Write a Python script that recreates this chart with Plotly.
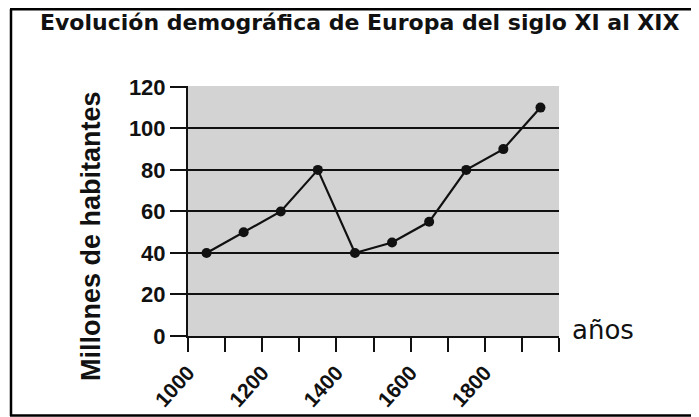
import plotly.graph_objects as go

# ---- data ----
years = [1050, 1150, 1250, 1350, 1450, 1550, 1650, 1750, 1850, 1950]
population = [40, 50, 60, 80, 40, 45, 55, 80, 90, 110]
x_tick_values = [1000, 1200, 1400, 1600, 1800]
x_tick_labels = ["1000", "1200", "1400", "1600", "1800"]
y_tick_values = [0, 20, 40, 60, 80, 100, 120]
y_tick_labels = ["0", "20", "40", "60", "80", "100", "120"]
title_text = "Evolución demográfica de Europa del siglo XI al XIX"
y_title = "Millones de habitantes"
x_title = "años"

W, H = 699, 417
OFF = 8  # page offset of the figure inside the browser window
# plot area in window pixels
WL, WR, WT, WB = 188, 559, 86, 336
L, R, T, B = WL - OFF, WR - OFF, WT - OFF, WB - OFF  # figure pixels
FONT = "Liberation Sans, Arial, sans-serif"
WIDE = "DejaVu Sans, Liberation Sans, sans-serif"


def px(x):  # window pixel -> paper x
    return (x - OFF - L) / (R - L)


def py(y):  # window pixel -> paper y
    return (B - (y - OFF)) / (B - T)


fig = go.Figure()
fig.add_trace(go.Scatter(
    x=years, y=population, mode="lines+markers",
    line=dict(color="#111111", width=2.2),
    marker=dict(color="#111111", size=10),
    showlegend=False, hoverinfo="skip",
))

fig.update_layout(
    width=W, height=H,
    margin=dict(l=L, r=W - R, t=T, b=H - B, pad=0, autoexpand=False),
    paper_bgcolor="white", plot_bgcolor="#d3d3d3",
    font=dict(family=FONT, color="#111111"),
    xaxis=dict(
        range=[1000, 2000], tickmode="array", automargin=False,
        tickvals=x_tick_values, ticktext=x_tick_labels,
        tickangle=-48, ticks="outside", ticklen=14, tickwidth=2, tickcolor="#111111",
        tickfont=dict(size=21, family=FONT, weight="bold"),
        minor=dict(dtick=100, tick0=1000, ticks="outside", ticklen=14, tickwidth=2,
                   tickcolor="#111111", showgrid=False),
        showgrid=False, zeroline=False,
        showline=True, linecolor="#111111", linewidth=2,
    ),
    yaxis=dict(
        range=[0, 120.4], tickmode="array", automargin=False,
        tickvals=y_tick_values, ticktext=y_tick_labels,
        ticks="outside", ticklen=16, tickwidth=2, tickcolor="#111111",
        tickfont=dict(size=22, family=FONT, weight="bold"),
        showgrid=True, gridcolor="#111111", gridwidth=2,
        zeroline=False, showline=True, linecolor="#111111", linewidth=2,
    ),
    annotations=[
        dict(text=title_text, x=px(360), y=py(22), xref="paper", yref="paper",
             showarrow=False, xanchor="center", yanchor="middle",
             font=dict(size=22, family=WIDE, weight="bold", color="#111111")),
        dict(text=y_title, x=px(91), y=py(236), xref="paper", yref="paper",
             showarrow=False, xanchor="center", yanchor="middle", textangle=-90,
             font=dict(size=27, family=FONT, weight="bold", color="#111111")),
        dict(text=x_title, x=px(570), y=py(330), xref="paper", yref="paper",
             showarrow=False, xanchor="left", yanchor="middle",
             font=dict(size=26, family=WIDE, color="#111111")),
    ],
    shapes=[
        dict(type="line", xref="paper", yref="paper", x0=px(11), x1=px(11),
             y0=py(9), y1=py(416), line=dict(color="black", width=2.5)),
        dict(type="line", xref="paper", yref="paper", x0=px(10), x1=px(720),
             y0=py(9.2), y1=py(9.2), line=dict(color="black", width=2.5)),
        dict(type="line", xref="paper", yref="paper", x0=px(10), x1=px(720),
             y0=py(415.5), y1=py(415.5), line=dict(color="black", width=2.5)),
    ],
)

fig.write_html("out.html")
